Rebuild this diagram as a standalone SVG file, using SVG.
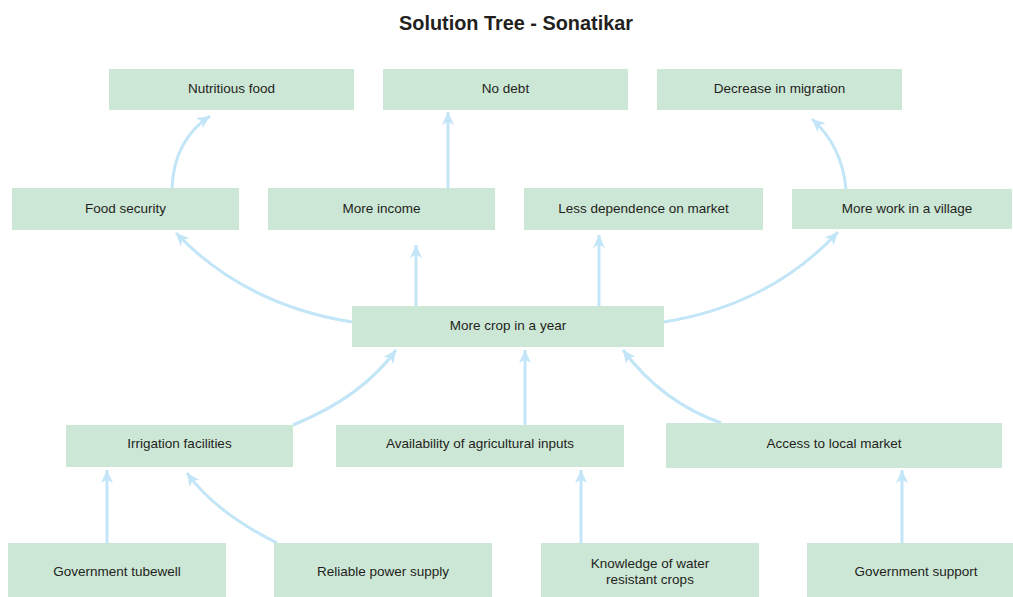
<svg xmlns="http://www.w3.org/2000/svg" width="1013" height="597" viewBox="0 0 1013 597">
  <style>
    .box { fill: #cde7d6; }
    .lbl { font-family: "Liberation Sans", Arial, sans-serif; font-size: 13.5px; fill: #231f20; text-anchor: middle; dominant-baseline: central; }
    .title { font-family: "Liberation Sans", Arial, sans-serif; font-size: 21px; font-weight: bold; fill: #231f20; text-anchor: middle; }
    .link { fill: none; stroke: #c2e5f7; stroke-width: 3; marker-end: url(#head); }
  </style>
  <defs>
    <marker id="head" markerUnits="userSpaceOnUse" markerWidth="14" markerHeight="12" refX="13" refY="6" orient="auto">
      <path d="M0,0 L13,6 L0,12 L3.5,6 Z" fill="#c2e5f7"/>
    </marker>
  </defs>

  <rect width="1013" height="597" fill="#ffffff"/>
  <text class="title" x="516" y="30" textLength="234" lengthAdjust="spacingAndGlyphs">Solution Tree - Sonatikar</text>

  <!-- connectors -->
  <g id="connectors">
    <path class="link" d="M172,188 Q174,140 210,116"/>
    <path class="link" d="M448,188 L448,112"/>
    <path class="link" d="M846,189 Q842,146 812,119"/>
    <path class="link" d="M352,322 Q245,305 176,233"/>
    <path class="link" d="M416,306 L416,245"/>
    <path class="link" d="M599,306 L599,235"/>
    <path class="link" d="M664,322 Q770,305 838,232"/>
    <path class="link" d="M293,425 Q362,397 396,350"/>
    <path class="link" d="M525,425 L525,350"/>
    <path class="link" d="M721,423 Q662,402 623,350"/>
    <path class="link" d="M107,543 L107,470"/>
    <path class="link" d="M277,543 Q215,512 187,473"/>
    <path class="link" d="M581,543 L581,470"/>
    <path class="link" d="M902,543 L902,470"/>
  </g>

  <!-- top row -->
  <g id="nutritious-food">
    <rect class="box" x="109" y="69" width="245" height="41"/>
    <text class="lbl" x="231.5" y="88">Nutritious food</text>
  </g>
  <g id="no-debt">
    <rect class="box" x="383" y="69" width="245" height="41"/>
    <text class="lbl" x="505.5" y="88">No debt</text>
  </g>
  <g id="decrease-migration">
    <rect class="box" x="657" y="69" width="245" height="41"/>
    <text class="lbl" x="779.5" y="88">Decrease in migration</text>
  </g>

  <!-- second row -->
  <g id="food-security">
    <rect class="box" x="12" y="188" width="227" height="42"/>
    <text class="lbl" x="125.5" y="208">Food security</text>
  </g>
  <g id="more-income">
    <rect class="box" x="268" y="188" width="227" height="42"/>
    <text class="lbl" x="381.5" y="208">More income</text>
  </g>
  <g id="less-dependence">
    <rect class="box" x="524" y="188" width="239" height="42"/>
    <text class="lbl" x="643.5" y="208">Less dependence on market</text>
  </g>
  <g id="more-work">
    <rect class="box" x="792" y="189" width="220" height="40"/>
    <text class="lbl" x="907" y="208">More work in a village</text>
  </g>

  <!-- centre -->
  <g id="more-crop">
    <rect class="box" x="352" y="306" width="312" height="41"/>
    <text class="lbl" x="508" y="325">More crop in a year</text>
  </g>

  <!-- fourth row -->
  <g id="irrigation">
    <rect class="box" x="66" y="425" width="227" height="42"/>
    <text class="lbl" x="179.5" y="443">Irrigation facilities</text>
  </g>
  <g id="agri-inputs">
    <rect class="box" x="336" y="425" width="288" height="42"/>
    <text class="lbl" x="480" y="443">Availability of agricultural inputs</text>
  </g>
  <g id="local-market">
    <rect class="box" x="666" y="423" width="336" height="45"/>
    <text class="lbl" x="834" y="443">Access to local market</text>
  </g>

  <!-- bottom row -->
  <g id="govt-tubewell">
    <rect class="box" x="8" y="543" width="218" height="54"/>
    <text class="lbl" x="117" y="571">Government tubewell</text>
  </g>
  <g id="power-supply">
    <rect class="box" x="274" y="543" width="218" height="54"/>
    <text class="lbl" x="383" y="571">Reliable power supply</text>
  </g>
  <g id="water-resistant">
    <rect class="box" x="541" y="543" width="218" height="54"/>
    <text class="lbl" x="650" y="563">Knowledge of water</text>
    <text class="lbl" x="650" y="579">resistant crops</text>
  </g>
  <g id="govt-support">
    <rect class="box" x="807" y="543" width="206" height="54"/>
    <text class="lbl" x="916" y="571">Government support</text>
  </g>
</svg>
